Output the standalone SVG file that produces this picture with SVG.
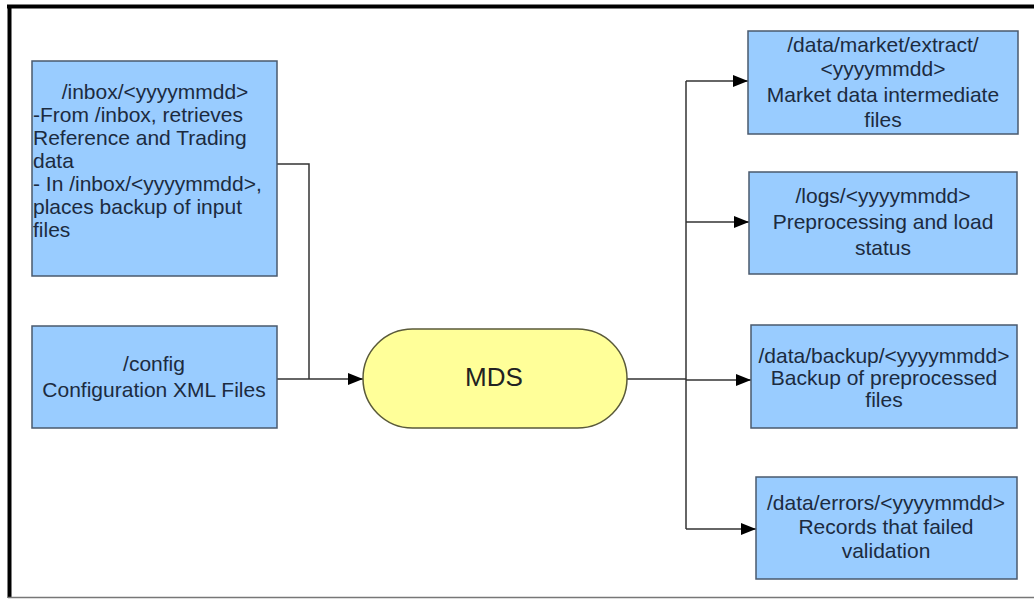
<svg xmlns="http://www.w3.org/2000/svg" width="1034" height="599" viewBox="0 0 1034 599">
<style>
.box{fill:#99ccff;stroke:#4a5a6e;stroke-width:1.5}
.pill{fill:#ffff99;stroke:#5a5a3a;stroke-width:1.5}
.t{font-family:"Liberation Sans",Arial,sans-serif;font-size:21px;fill:#1c2b40}
.c{text-anchor:middle}
.conn{fill:none;stroke:#333;stroke-width:1.5}
</style>
<defs>
<marker id="arr" markerUnits="userSpaceOnUse" markerWidth="16" markerHeight="14" refX="15" refY="7" orient="auto">
<path d="M0,1 L15,7 L0,13 z" fill="#000"/>
</marker>
</defs>
<rect width="1034" height="599" fill="#fff"/>
<g id="frame">
<line x1="7" y1="6.5" x2="1034" y2="6.5" stroke="#000" stroke-width="4"/>
<line x1="9.5" y1="5" x2="9.5" y2="598" stroke="#000" stroke-width="4"/>
<line x1="8" y1="597.5" x2="1034" y2="597.5" stroke="#777" stroke-width="1.5"/>
</g>
<g id="connectors">
<path class="conn" d="M277,164 H309 V379"/>
<path class="conn" d="M277,379 H363" marker-end="url(#arr)"/>
<path class="conn" d="M627,379 H686"/>
<path class="conn" d="M686,81 V529"/>
<path class="conn" d="M686,81 H748" marker-end="url(#arr)"/>
<path class="conn" d="M686,222 H749" marker-end="url(#arr)"/>
<path class="conn" d="M686,380 H751" marker-end="url(#arr)"/>
<path class="conn" d="M686,529 H756" marker-end="url(#arr)"/>
</g>
<g id="inbox">
<rect class="box" x="32" y="61" width="245" height="215"/>
<text class="t c" x="155" y="99">/inbox/&lt;yyyymmdd&gt;</text>
<text class="t" x="33" y="122">-From /inbox, retrieves</text>
<text class="t" x="33" y="145">Reference and Trading</text>
<text class="t" x="33" y="168">data</text>
<text class="t" x="33" y="191">- In /inbox/&lt;yyyymmdd&gt;,</text>
<text class="t" x="33" y="214">places backup of input</text>
<text class="t" x="33" y="237">files</text>
</g>
<g id="config">
<rect class="box" x="32" y="326" width="245" height="102"/>
<text class="t c" x="154" y="371">/config</text>
<text class="t c" x="154" y="397">Configuration XML Files</text>
</g>
<g id="mds">
<rect class="pill" x="363" y="329" width="264" height="99" rx="49.5" ry="49.5"/>
<text class="t c" x="494" y="386" style="font-size:26px;fill:#222">MDS</text>
</g>
<g id="market">
<rect class="box" x="748" y="31" width="270" height="103"/>
<text class="t c" x="883" y="52">/data/market/extract/</text>
<text class="t c" x="883" y="76">&lt;yyyymmdd&gt;</text>
<text class="t c" x="883" y="102">Market data intermediate</text>
<text class="t c" x="883" y="127">files</text>
</g>
<g id="logs">
<rect class="box" x="749" y="172" width="268" height="102"/>
<text class="t c" x="883" y="203">/logs/&lt;yyyymmdd&gt;</text>
<text class="t c" x="883" y="229">Preprocessing and load</text>
<text class="t c" x="883" y="255">status</text>
</g>
<g id="backup">
<rect class="box" x="751" y="325" width="266" height="103"/>
<text class="t c" x="884" y="363">/data/backup/&lt;yyyymmdd&gt;</text>
<text class="t c" x="884" y="385">Backup of preprocessed</text>
<text class="t c" x="884" y="407">files</text>
</g>
<g id="errors">
<rect class="box" x="756" y="477" width="261" height="102"/>
<text class="t c" x="886" y="510">/data/errors/&lt;yyyymmdd&gt;</text>
<text class="t c" x="886" y="534">Records that failed</text>
<text class="t c" x="886" y="558">validation</text>
</g>
</svg>
